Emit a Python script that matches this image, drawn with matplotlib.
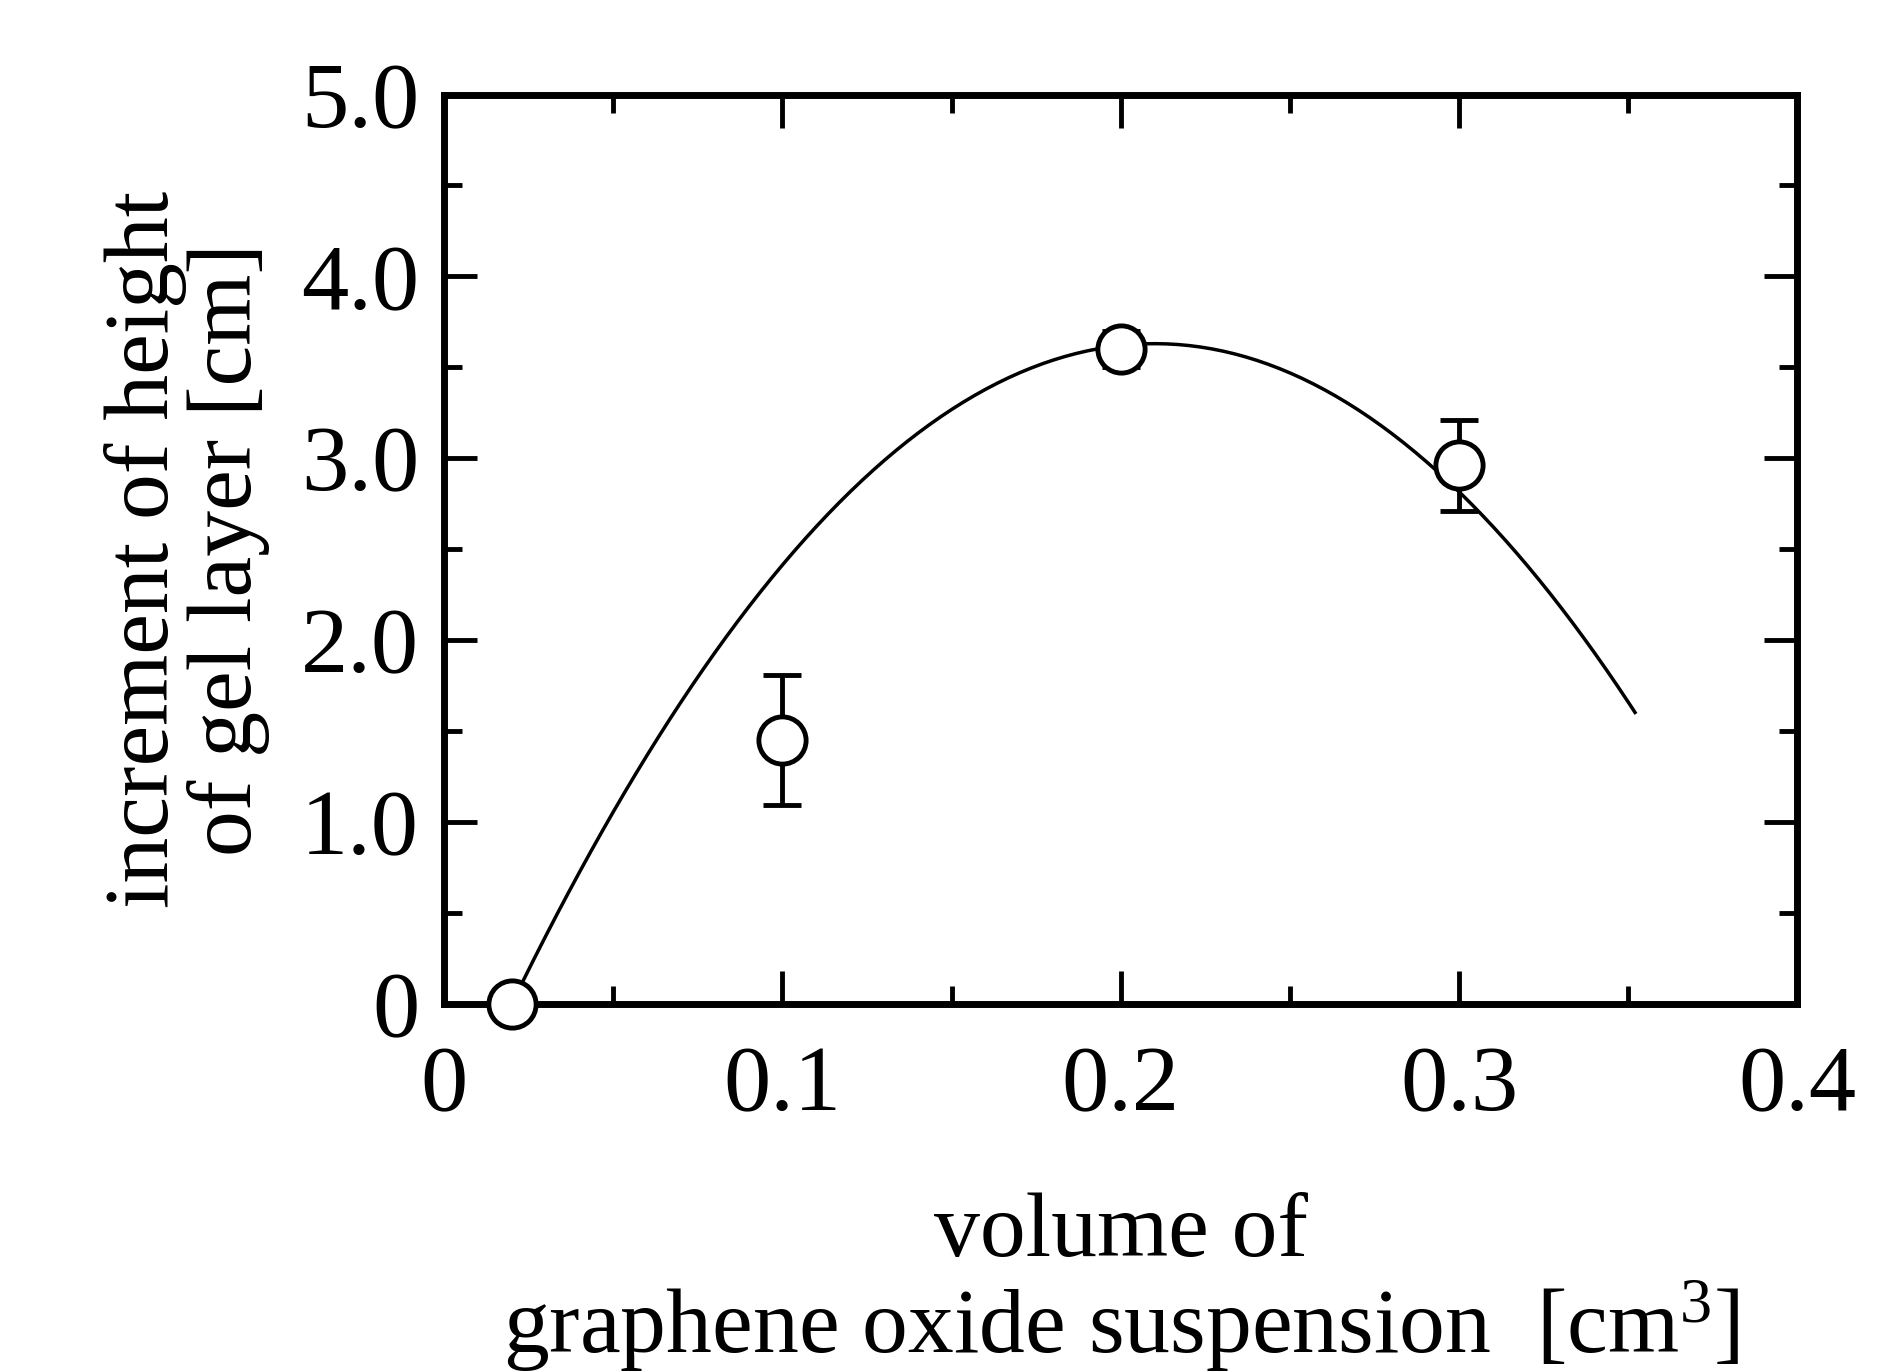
import matplotlib
matplotlib.use("Agg")
import matplotlib.pyplot as plt
import numpy as np

x = [0.02, 0.1, 0.2, 0.3]
y = [0.0, 1.45, 3.6, 2.96]
yerr = [0.0, 0.36, 0.1, 0.25]
# quadratic fit: y = a*(x-x0)^2 + ymax
fit_a, fit_x0, fit_ymax = -100.6, 0.21, 3.63
fit_range = (0.02, 0.352)
xticks = [0, 0.1, 0.2, 0.3, 0.4]
xticklabels = ['0', '0.1', '0.2', '0.3', '0.4']
yticks = [0, 1, 2, 3, 4, 5]
yticklabels = ['0', '1.0', '2.0', '3.0', '4.0', '5.0']

plt.rcParams['font.family'] = ['Liberation Serif']
plt.rcParams['mathtext.fontset'] = 'custom'
plt.rcParams['mathtext.rm'] = 'Liberation Serif'
fig = plt.figure(figsize=(18.98, 13.71), dpi=100)
ax = fig.add_axes([0.234, 0.268, 0.713, 0.663])
xs = np.linspace(*fit_range, 200)
ax.plot(xs, fit_a*(xs-fit_x0)**2 + fit_ymax, color='black', lw=2.5)
ax.errorbar(x, y, yerr=yerr, fmt='o', ms=34, mfc='white', mec='black', mew=3.5,
            ecolor='black', elinewidth=3.5, capsize=14, capthick=3.5, zorder=5, clip_on=False)
ax.set_xlim(0, 0.4)
ax.set_ylim(0, 5.0)
ax.set_xticks(xticks)
ax.set_xticklabels(xticklabels)
ax.set_xticks(np.arange(0.05, 0.4, 0.1), minor=True)
ax.set_yticks(yticks)
ax.set_yticklabels(yticklabels)
ax.set_yticks(np.arange(0.5, 5.0, 1.0), minor=True)
ax.tick_params(which='both', direction='in', top=True, right=True, width=3.5, labelsize=68)
ax.tick_params(axis='x', pad=30)
ax.tick_params(axis='y', pad=18)
ax.tick_params(which='major', length=24)
ax.tick_params(which='minor', length=13)
for s in ax.spines.values():
    s.set_linewidth(5)
ax.set_xlabel('volume of\ngraphene oxide suspension  [cm$\\mathrm{^3}$]', fontsize=66, labelpad=45, linespacing=1.05)
ax.set_ylabel('increment of height\nof gel layer [cm]', fontsize=66, labelpad=22, linespacing=1.0)
fig.savefig('out.png')
